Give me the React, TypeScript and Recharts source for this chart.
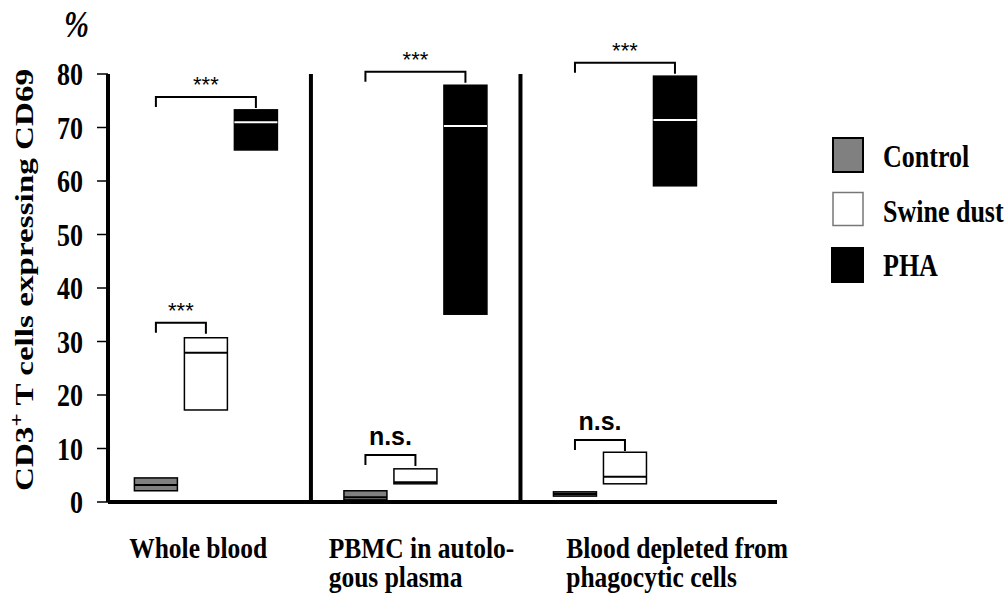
import { BarChart, Bar, XAxis, YAxis, ReferenceLine, Legend } from "recharts";

const groups = [
  "Whole blood",
  "PBMC in autolo-\ngous plasma",
  "Blood depleted from\nphagocytic cells",
];
const yTicks = [0, 10, 20, 30, 40, 50, 60, 70, 80];
const seriesNames = ["Control", "Swine dust", "PHA"];

const controlLow = [2.1, 0.4, 1.1];
const controlMedian = [3.2, 0.9, 1.5];
const controlHigh = [4.5, 2.1, 1.9];

const swineLow = [17.2, 3.4, 3.4];
const swineMedian = [27.9, 3.7, 4.7];
const swineHigh = [30.7, 6.2, 9.3];

const phaLow = [65.8, 35.1, 59.1];
const phaMedian = [71.0, 70.3, 71.4];
const phaHigh = [73.3, 77.9, 79.6];

// significance vs control + level (in %) of the bracket
const swineSig = ["***", "n.s.", "n.s."];
const swineBracket = [33.5, 8.8, 11.6];
const phaSig = ["***", "***", "***"];
const phaBracket = [75.7, 80.4, 82.1];

const data = groups.map((g, i) => ({
  group: g,
  control: [controlLow[i], controlHigh[i]],
  controlMed: controlMedian[i],
  swine: [swineLow[i], swineHigh[i]],
  swineMed: swineMedian[i],
  swineSig: swineSig[i],
  swineBracket: swineBracket[i],
  pha: [phaLow[i], phaHigh[i]],
  phaMed: phaMedian[i],
  phaSig: phaSig[i],
  phaBracket: phaBracket[i],
}));

const BAR = 43;
const GAP = 7;
const STRETCH = 1.25;
const SERIF = '"Liberation Serif", "Times New Roman", serif';
const SANS = '"Liberation Sans", Arial, sans-serif';

// box = range bar with a median line; slot > 0 also draws the bracket back to control
function boxShape(key: string, fill: string, medianColor: string, slot: number) {
  return (props: any) => {
    const { x, y, width, height, payload } = props;
    const [lo, hi] = payload[key];
    const top = Math.min(y, y + height);
    const h = Math.abs(height);
    const unit = h / (hi - lo);
    const toY = (v: number) => top + (hi - v) * unit;
    const cx = x + width / 2;
    const medY = toY(payload[key + "Med"]);
    let bracket = null;
    if (slot > 0) {
      const by = toY(payload[key + "Bracket"]);
      const left = cx - slot * (width + GAP);
      const sig = payload[key + "Sig"];
      const stars = sig === "***";
      bracket = (
        <g>
          <polyline
            points={`${left},${by + 10} ${left},${by} ${cx},${by} ${cx},${by + 11}`}
            fill="none"
            stroke="#000"
            strokeWidth={2}
          />
          <text
            x={(left + cx) / 2}
            y={stars ? by - 5 : by - 10}
            textAnchor="middle"
            fontFamily={SANS}
            fontSize={stars ? 22 : 25}
            fontWeight={stars ? "normal" : "bold"}
          >
            {sig}
          </text>
        </g>
      );
    }
    return (
      <g>
        <rect x={x} y={top} width={width} height={h} fill={fill} stroke="#000" strokeWidth={1.5} />
        <line x1={x} x2={x + width} y1={medY} y2={medY} stroke={medianColor} strokeWidth={2} />
        {bracket}
      </g>
    );
  };
}

function YTick(props: any) {
  const { x, y, payload } = props;
  return (
    <g transform={`translate(${x},${y + 11}) scale(1,${STRETCH})`}>
      <text textAnchor="end" fontFamily={SERIF} fontWeight="bold" fontSize={26} fill="#000">
        {payload.value}
      </text>
    </g>
  );
}

function XTick(props: any) {
  const { x, y, payload, index } = props;
  const shift = [-77, -87, -59][index] ?? -77;
  const lines = String(payload.value).split("\n");
  const sy = 1.12;
  return (
    <g transform={`translate(${x + shift},${y + 56}) scale(1,${sy})`}>
      <text fontFamily={SERIF} fontWeight="bold" fontSize={25.5} fill="#000">
        {lines.map((l, i) => (
          <tspan key={i} x={0} dy={i === 0 ? 0 : 29 / sy}>
            {l}
          </tspan>
        ))}
      </text>
    </g>
  );
}

const legendBox: Record<string, any> = {
  Control: { fill: "#808080", stroke: "#000", sw: 2, x: 5, w: 30, h: 34 },
  "Swine dust": { fill: "#fff", stroke: "#777", sw: 1.5, x: 5, w: 30, h: 33 },
  PHA: { fill: "#000", stroke: "none", sw: 0, x: 3, w: 33, h: 36 },
};

function renderLegend(props: any) {
  const items = [...(props.payload || [])].sort(
    (a: any, b: any) => seriesNames.indexOf(a.value) - seriesNames.indexOf(b.value)
  );
  return (
    <svg width={180} height={160}>
      {items.map((it: any, i: number) => {
        const s = legendBox[it.value];
        const top = 4 + i * 54.5;
        return (
          <g key={it.value}>
            <rect x={s.x} y={top} width={s.w} height={s.h} fill={s.fill} stroke={s.stroke} strokeWidth={s.sw} />
            <g transform={`translate(55,${top + 29}) scale(1,${STRETCH})`}>
              <text fontFamily={SERIF} fontWeight="bold" fontSize={26} fill="#000">
                {it.value}
              </text>
            </g>
          </g>
        );
      })}
    </svg>
  );
}

function YTitle() {
  return (
    <g transform={`translate(33,280) rotate(-90) scale(1.3,1)`}>
      <text textAnchor="middle" fontFamily={SERIF} fontWeight="bold" fontSize={25.5} fill="#000">
        CD3
        <tspan dy={-10} fontSize={18}>
          +
        </tspan>
        <tspan dy={10}> T cells expressing CD69</tspan>
      </text>
    </g>
  );
}

function Percent() {
  return (
    <g transform={`translate(64,37) scale(1,${STRETCH})`}>
      <text fontFamily={SERIF} fontStyle="italic" fontWeight="bold" fontSize={30} fill="#000">
        %
      </text>
    </g>
  );
}

export default function App() {
  return (
    <div style={{ position: "absolute", left: 0, top: 0, background: "#fff" }}>
      <BarChart
        width={1006}
        height={596}
        data={data}
        margin={{ top: 74, right: 229, bottom: 34, left: 48 }}
        barGap={GAP}
      >
        <XAxis
          dataKey="group"
          height={60}
          padding={{ left: -6.6, right: 47 }}
          axisLine={{ stroke: "#000", strokeWidth: 4 }}
          tickLine={false}
          tickSize={0}
          tickMargin={0}
          tick={<XTick />}
          interval={0}
        />
        <YAxis
          width={60}
          domain={[0, 80]}
          ticks={yTicks}
          interval={0}
          axisLine={{ stroke: "#000", strokeWidth: 4 }}
          tickLine={{ stroke: "#000", strokeWidth: 1.5 }}
          tickSize={11}
          tickMargin={14}
          tick={<YTick />}
        />
        <ReferenceLine x={groups[1]} position="start" stroke="#000" strokeWidth={4} />
        <ReferenceLine x={groups[2]} position="start" stroke="#000" strokeWidth={4} />
        <Bar
          dataKey="control"
          name="Control"
          fill="#808080"
          barSize={BAR}
          shape={boxShape("control", "#808080", "#000", 0)}
          isAnimationActive={false}
        />
        <Bar
          dataKey="swine"
          name="Swine dust"
          fill="#fff"
          barSize={BAR}
          shape={boxShape("swine", "#fff", "#000", 1)}
          isAnimationActive={false}
        />
        <Bar
          dataKey="pha"
          name="PHA"
          fill="#000"
          barSize={BAR}
          shape={boxShape("pha", "#000", "#fff", 2)}
          isAnimationActive={false}
        />
        <Legend
          layout="vertical"
          align="center"
          verticalAlign="middle"
          content={renderLegend}
          wrapperStyle={{ left: 828, top: 134, width: 180, height: 160 }}
        />
        <YTitle />
        <Percent />
      </BarChart>
    </div>
  );
}
